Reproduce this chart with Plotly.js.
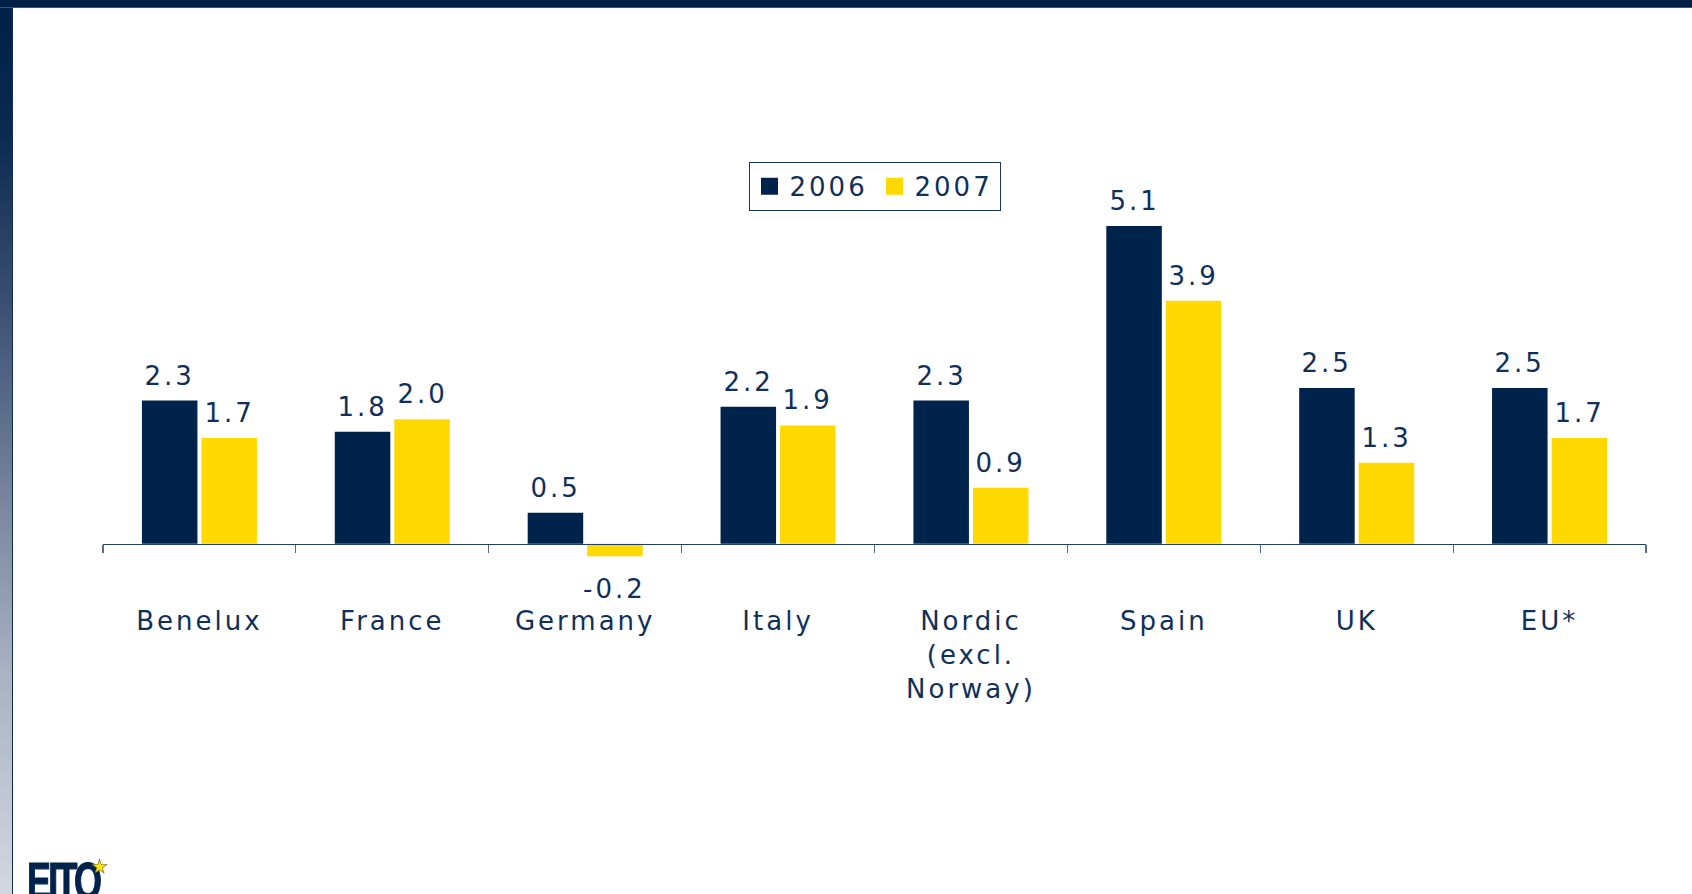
<!DOCTYPE html>
<html>
<head>
<meta charset="utf-8">
<script src="https://cdn.plot.ly/plotly-3.0.1.min.js"></script>
<style>
  html, body { margin: 0; padding: 0; background: #ffffff; overflow: hidden; }
  #chart { width: 1692px; height: 894px; }
  #topbar { position: fixed; left: 0; top: 0; width: 1692px; height: 7px; background: #002147; z-index: 10; border-bottom: 1px solid #3a5578; }
  #leftbar { position: fixed; left: 0; top: 0; width: 12px; height: 894px; z-index: 9;
    background: linear-gradient(to bottom, #002147 0%, #0a2a50 15%, #3d5274 35%, #75839d 55%, #a9b1c2 75%, #d3d7df 100%);
    border-right: 1px solid #102c52; }
  #chart text { letter-spacing: 3px; }
  #chart .legendpoints path { stroke-width: 5px !important; stroke-linejoin: miter; }
  #logo { position: fixed; left: 27px; top: 855px; z-index: 11; font-family: "Liberation Sans", Arial, sans-serif;
    font-weight: bold; font-size: 52px; color: #00234b; transform: scaleX(0.69); transform-origin: 0 0; line-height: 1;
    letter-spacing: -4px; -webkit-text-stroke: 1.2px #00234b; }
  #star { position: fixed; left: 91px; top: 857px; z-index: 12; font-family: "DejaVu Sans", sans-serif; font-size: 19px;
    color: #ffe600; -webkit-text-stroke: 0.6px #6b6020; line-height: 1; }
</style>
</head>
<body>
<div id="topbar"></div>
<div id="leftbar"></div>
<div id="chart"></div>
<div id="logo">EITO</div>
<div id="star">★</div>
<script>
const categories = ["Benelux", "France", "Germany", "Italy", "Nordic<br>(excl.<br>Norway)", "Spain", "UK", "EU*"];
const series2006 = [2.3, 1.8, 0.5, 2.2, 2.3, 5.1, 2.5, 2.5];
const series2007 = [1.7, 2.0, -0.2, 1.9, 0.9, 3.9, 1.3, 1.7];
const seriesNames = ["2006", "2007"];

const navy = "#00234b";
const yellow = "#ffd900";
const textColor = "#10305a";
const fontFamily = "DejaVu Sans, Verdana, sans-serif";

const traces = [
  {
    type: "bar", name: seriesNames[0], x: categories, y: series2006,
    marker: { color: navy, line: { color: navy, width: 0.01 } }, hoverinfo: "skip"
  },
  {
    type: "bar", name: seriesNames[1], x: categories, y: series2007,
    marker: { color: yellow, line: { color: yellow, width: 0.01 } }, hoverinfo: "skip"
  }
];

// value labels, one per bar, placed at the bar's value through the axes
const barOffsetPx = 29.75;
function labelFor(cat, v, side) {
  const pos = v >= 0;
  return {
    xref: "x", yref: "y", x: cat, y: v,
    xshift: side * barOffsetPx,
    yanchor: pos ? "bottom" : "top",
    yshift: pos ? 8 : -16,
    text: v.toFixed(1), showarrow: false,
    font: { family: fontFamily, size: 26, color: textColor }
  };
}
const annotations = [];
categories.forEach((c, i) => {
  annotations.push(labelFor(c, series2006[i], -1));
  annotations.push(labelFor(c, series2007[i], 1));
});

const layout = {
  width: 1692, height: 894,
  margin: { l: 103, r: 46, t: 170, b: 319, pad: 0 },
  paper_bgcolor: "#ffffff", plot_bgcolor: "#ffffff",
  barmode: "group", bargap: 0.383, bargroupgap: 0.067,
  font: { family: fontFamily, size: 26, color: textColor },
  showlegend: true,
  legend: {
    orientation: "h", x: 0.5, xanchor: "center", y: 1.02, yanchor: "top",
    bordercolor: "#1a3560", borderwidth: 1, bgcolor: "#ffffff",
    font: { family: fontFamily, size: 26, color: textColor },
    itemwidth: 30, traceorder: "normal",
    entrywidth: 80, entrywidthmode: "pixels"
  },
  xaxis: {
    type: "category", range: [-0.5, 7.5], fixedrange: true,
    anchor: "free", position: 0.5 / 6.5,
    showline: true, linecolor: "#1f3f6a", linewidth: 1.2,
    ticks: "outside", tickson: "boundaries", ticklen: 8, tickcolor: "#5a6a88", tickwidth: 1.2,
    ticklabelstandoff: 54,
    tickfont: { family: fontFamily, size: 26, color: textColor },
    showgrid: false, zeroline: false
  },
  yaxis: {
    range: [-0.5, 6], fixedrange: true, visible: false,
    showgrid: false, zeroline: false
  },
  annotations: annotations
};

Plotly.newPlot("chart", traces, layout, { staticPlot: true, displayModeBar: false });
</script>
</body>
</html>
